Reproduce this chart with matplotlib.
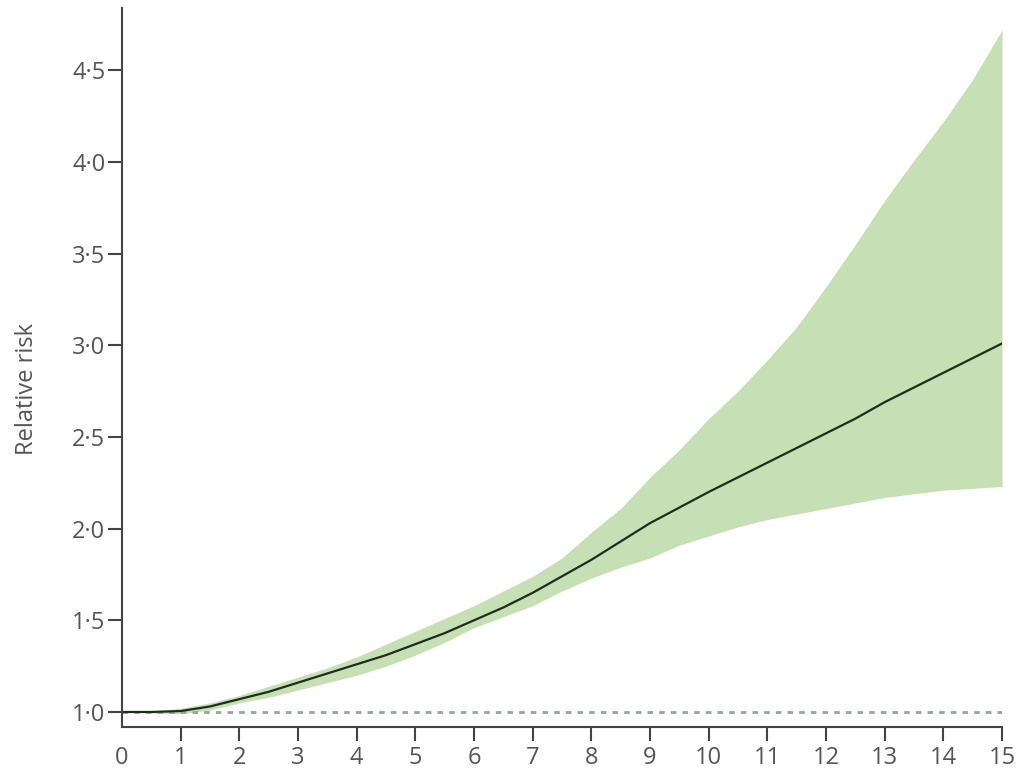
import numpy as np
import matplotlib
matplotlib.use("Agg")
import matplotlib.pyplot as plt
from matplotlib.ticker import FuncFormatter

# half-year readings of the relative risk curve and its confidence band
years = [0, 0.5, 1, 1.5, 2, 2.5, 3, 3.5, 4, 4.5, 5, 5.5, 6, 6.5, 7, 7.5,
         8, 8.5, 9, 9.5, 10, 10.5, 11, 11.5, 12, 12.5, 13, 13.5, 14, 14.5, 15]
rr_mid = [1.00, 1.00, 1.005, 1.03, 1.07, 1.11, 1.16, 1.21, 1.26, 1.31, 1.37, 1.43, 1.50, 1.57,
          1.65, 1.74, 1.83, 1.93, 2.03, 2.115, 2.20, 2.28, 2.36, 2.44, 2.52, 2.60, 2.69, 2.77,
          2.85, 2.93, 3.01]
rr_upper = [1.00, 1.005, 1.02, 1.05, 1.09, 1.14, 1.19, 1.24, 1.30, 1.37, 1.44, 1.51, 1.58, 1.66,
            1.74, 1.84, 1.98, 2.11, 2.28, 2.43, 2.60, 2.75, 2.92, 3.10, 3.32, 3.55, 3.79, 4.01,
            4.22, 4.45, 4.72]
rr_lower = [1.00, 0.995, 0.99, 1.01, 1.05, 1.08, 1.12, 1.16, 1.20, 1.25, 1.31, 1.38, 1.46, 1.52,
            1.58, 1.66, 1.73, 1.79, 1.84, 1.91, 1.96, 2.01, 2.05, 2.08, 2.11, 2.14, 2.17, 2.19,
            2.21, 2.22, 2.23]
x_ticks = list(range(0, 16))
y_ticks = [1.0, 1.5, 2.0, 2.5, 3.0, 3.5, 4.0, 4.5]

plt.rcParams['font.family'] = ['Open Sans', 'DejaVu Sans']

fig = plt.figure(figsize=(10.18, 7.69), dpi=100)
ax = fig.add_axes([0.1198, 0.0546, 0.8645, 0.935])

ax.fill_between(years, rr_lower, rr_upper, color='#c6dfb4', linewidth=0)
ax.plot(years, rr_mid, color='#1f2d1c', linewidth=1.6)
ax.axhline(1.0, color='#97a3a6', linewidth=2.0, linestyle=(0, (2, 2.2)), zorder=1)

ax.set_xlim(0, 15)
ax.set_ylim(0.918, 4.84)
ax.set_xticks(x_ticks)
ax.set_yticks(y_ticks)
ax.yaxis.set_major_formatter(FuncFormatter(lambda v, p: f"{v:.1f}".replace('.', '\u00b7')))

for side in ['top', 'right']:
    ax.spines[side].set_visible(False)
for side in ['left', 'bottom']:
    ax.spines[side].set_color('#444444')
    ax.spines[side].set_linewidth(1.5)

ax.tick_params(axis='both', direction='out', length=10, width=1.5, color='#444444',
               labelsize=17, labelcolor='#555555')
ax.tick_params(axis='x', pad=4)
ax.tick_params(axis='y', pad=2)
# no tick mark at 0 on the x axis, the y spine sits there
ax.xaxis.get_major_ticks()[0].tick1line.set_visible(False)

ax.set_ylabel('Relative risk', fontsize=17, color='#555555')
ax.yaxis.set_label_coords(-0.094, 0.47)

fig.savefig('out.png', dpi=100)
